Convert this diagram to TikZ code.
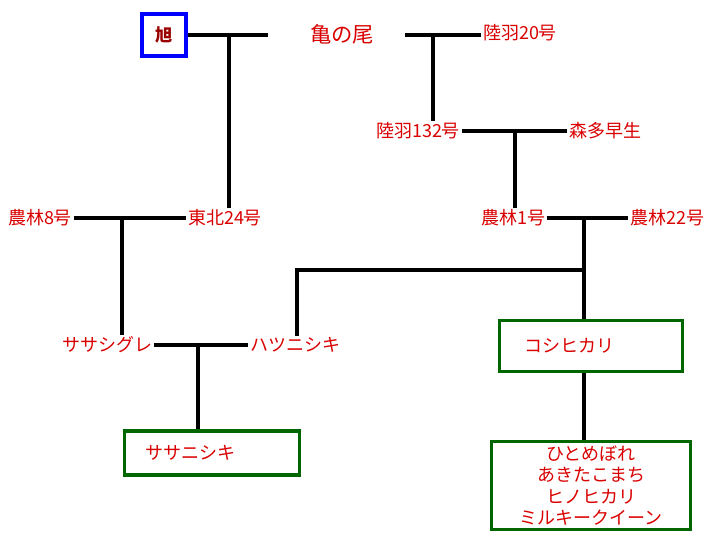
\documentclass[tikz,border=0pt]{standalone}
\usepackage{fontspec}
\setmainfont{Noto Sans CJK JP}
\begin{document}
\begin{tikzpicture}[x=0.75pt,y=-0.75pt,
  lbl/.style={text=red!85!black,font=\fontsize{13.5}{16}\selectfont,inner sep=1pt},
  ln/.style={line width=2.4pt},
  gbox/.style={draw=green!40!black,line width=2.4pt,minimum height=33pt,text width=100pt,align=left}]
\useasboundingbox (0,0) rectangle (720,540);
\node[draw=blue,line width=2.8pt,text=red!60!black,font=\bfseries\fontsize{13}{15}\selectfont,minimum width=33pt,minimum height=32pt] (asahi) at (164,35) {旭};
\node[lbl,font=\fontsize{16}{18}\selectfont] (kame) at (342,34) {亀の尾};
\node[lbl] (r20) at (520,33) {陸羽20号};
\node[lbl] (r132) at (418,131) {陸羽132号};
\node[lbl] (mori) at (605,131) {森多早生};
\node[lbl] (n8) at (40,218) {農林8号};
\node[lbl] (t24) at (225,218) {東北24号};
\node[lbl] (n1) at (513,218) {農林1号};
\node[lbl] (n22) at (667,218) {農林22号};
\node[lbl] (sasa) at (107,345) {ササシグレ};
\node[lbl] (hatsu) at (295,345) {ハツニシキ};
\node[gbox,lbl,minimum width=131pt,inner xsep=15pt] (sasan) at (212,453) {ササニシキ};
\node[gbox,lbl,minimum width=137pt,minimum height=38pt,inner xsep=17pt] (koshi) at (591,346) {コシヒカリ};
\node[draw=green!40!black,line width=2.4pt,lbl,align=center,minimum width=149pt,anchor=north,inner ysep=3pt,font=\fontsize{13.5}{16}\selectfont] (bot) at (591,440) {ひとめぼれ\\あきたこまち\\ヒノヒカリ\\ミルキークイーン};
\coordinate (a1) at (268,35); \coordinate (a2) at (229,35);
\draw[ln] (asahi.east) -- (a1);
\draw[ln] (a2) -- (t24.north -| a2);
\coordinate (k1) at (405,35); \coordinate (k2) at (433,35);
\draw[ln] (k1) -- (r20.west |- k1);
\draw[ln] (k2) -- (r132.north -| k2);
\coordinate (m1) at (515,131);
\draw[ln] (r132.east) -- (mori.west);
\draw[ln] (m1) -- (n1.north -| m1);
\coordinate (e1) at (122,218);
\draw[ln] (n8.east) -- (t24.west);
\draw[ln] (e1) -- (sasa.north -| e1);
\coordinate (f1) at (584,218); \coordinate (f2) at (584,270); \coordinate (f3) at (297,270);
\draw[ln] (n1.east) -- (n22.west);
\draw[ln] (f1) -- (koshi.north -| f1);
\draw[ln] (f2) -- (f3) -- (hatsu.north -| f3);
\coordinate (g1) at (198,345);
\draw[ln] (sasa.east) -- (hatsu.west);
\draw[ln] (g1) -- (sasan.north -| g1);
\draw[ln] (koshi.south -| f1) -- (bot.north -| f1);
\end{tikzpicture}
\end{document}
